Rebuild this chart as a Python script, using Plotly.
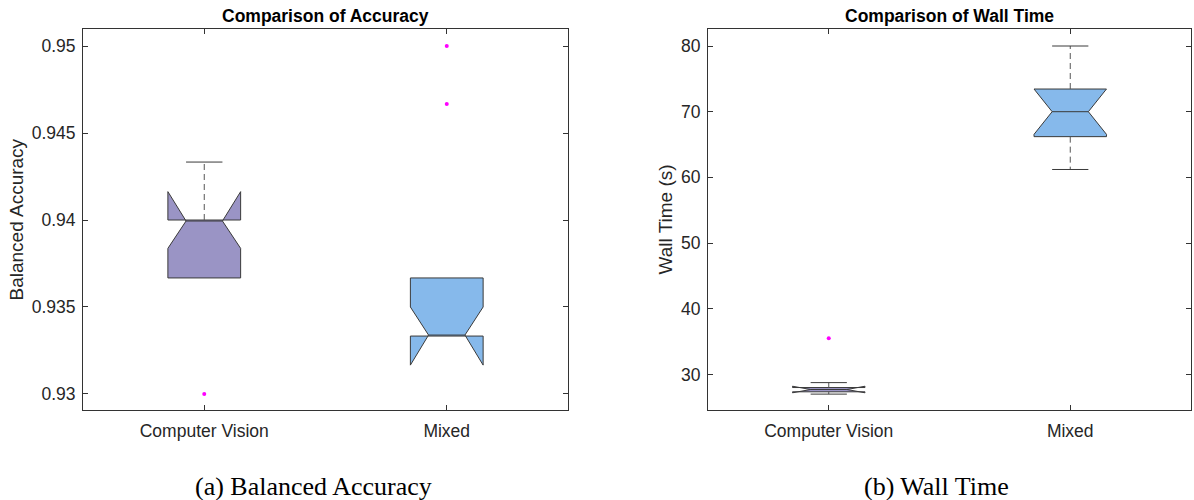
import plotly.graph_objects as go

# ---------------- data ----------------
categories = ["Computer Vision", "Mixed"]
box_colors = ["#9A94C5", "#86B9EB"]

# Balanced accuracy statistics
acc_q1 = [0.93667, 0.93333]
acc_median = [0.94000, 0.93333]
acc_q3 = [0.94000, 0.93667]
acc_lower_whisker = [0.93667, 0.93333]
acc_upper_whisker = [0.94333, 0.93667]
acc_notch = [0.00163, 0.00167]
acc_outliers = [[0.93000], [0.95000, 0.94667]]
acc_ticks = [0.93, 0.935, 0.94, 0.945, 0.95]
acc_tick_labels = ["0.93", "0.935", "0.94", "0.945", "0.95"]

# Wall time statistics (s)
time_q1 = [27.35, 66.20]
time_median = [27.70, 70.00]
time_q3 = [28.00, 73.45]
time_lower_whisker = [27.00, 61.20]
time_upper_whisker = [28.75, 80.00]
time_notch = [0.50, 3.45]
time_outliers = [[35.50], []]
time_ticks = [30, 40, 50, 60, 70, 80]
time_tick_labels = ["30", "40", "50", "60", "70", "80"]

titles = ["Comparison of Accuracy", "Comparison of Wall Time"]
y_titles = ["Balanced Accuracy", "Wall Time (s)"]
captions = ["(a) Balanced Accuracy", "(b) Wall Time"]

# ---------------- styling ----------------
W, H = 1194, 500
BOX_W = 0.30
CAP_HALF = BOX_W * 0.25
EDGE = "#3a3a3a"
AX = "#333333"
TXT = "#262626"
SANS = "Liberation Sans, Arial, sans-serif"
SERIF = "Liberation Serif, Times New Roman, serif"

fig = go.Figure()


def add_panel(xref, yref, q1, med, q3, lw, uw, notch, outl):
    for i, cat in enumerate(categories):
        pos = i + 1
        fig.add_trace(go.Box(
            x=[pos], q1=[q1[i]], median=[med[i]], q3=[q3[i]],
            lowerfence=[q1[i]], upperfence=[q3[i]], notchspan=[notch[i]],
            notched=True, notchwidth=0.25, width=BOX_W, whiskerwidth=0,
            fillcolor=box_colors[i], line=dict(color=EDGE, width=1),
            boxpoints="outliers", xaxis=xref, yaxis=yref, showlegend=False,
            hoverinfo="skip"))
        # whiskers (dashed) + caps
        for a, b in ((q3[i], uw[i]), (q1[i], lw[i])):
            if abs(b - a) > 1e-12:
                fig.add_trace(go.Scatter(
                    x=[pos, pos], y=[a, b], mode="lines",
                    line=dict(color="#555555", width=1, dash="6px,4px"),
                    xaxis=xref, yaxis=yref, showlegend=False, hoverinfo="skip"))
                fig.add_trace(go.Scatter(
                    x=[pos - CAP_HALF, pos + CAP_HALF], y=[b, b], mode="lines",
                    line=dict(color=EDGE, width=1),
                    xaxis=xref, yaxis=yref, showlegend=False, hoverinfo="skip"))
        if outl[i]:
            fig.add_trace(go.Scatter(
                x=[pos] * len(outl[i]), y=outl[i], mode="markers",
                marker=dict(color="#FF00FF", size=4, symbol="circle",
                            line=dict(width=0)),
                xaxis=xref, yaxis=yref, showlegend=False, hoverinfo="skip"))


add_panel("x", "y", acc_q1, acc_median, acc_q3, acc_lower_whisker,
          acc_upper_whisker, acc_notch, acc_outliers)
add_panel("x2", "y2", time_q1, time_median, time_q3, time_lower_whisker,
          time_upper_whisker, time_notch, time_outliers)

# axes geometry in pixels
L1, R1 = 83, 568
L2, R2 = 708, 1191
TOP, BOT = 29, 410


def xdom(l, r):
    return [l / W, r / W]


ydom = [1 - BOT / H, 1 - TOP / H]

common_x = dict(range=[0.5, 2.5], tickmode="array", tickvals=[1, 2],
                ticktext=categories, ticks="inside", ticklen=5,
                tickcolor=AX, showline=True, linecolor=AX, linewidth=1,
                mirror="ticks", showgrid=False, zeroline=False,
                tickfont=dict(family=SANS, size=17.5, color=TXT),
                ticklabelstandoff=5)
common_y = dict(ticks="inside", ticklen=5, tickcolor=AX, showline=True,
                linecolor=AX, linewidth=1, mirror="ticks", showgrid=False,
                zeroline=False, tickfont=dict(family=SANS, size=17.5, color=TXT),
                ticklabelstandoff=3)

fig.update_layout(
    width=W, height=H, margin=dict(l=0, r=0, t=0, b=0),
    paper_bgcolor="white", plot_bgcolor="white",
    xaxis=dict(domain=xdom(L1, R1), anchor="y", **common_x),
    xaxis2=dict(domain=xdom(L2, R2), anchor="y2", **common_x),
    yaxis=dict(domain=ydom, anchor="x", range=[0.92908, 0.950977],
               tickmode="array", tickvals=acc_ticks, ticktext=acc_tick_labels,
               **common_y),
    yaxis2=dict(domain=ydom, anchor="x2", range=[24.58, 82.59],
                tickmode="array", tickvals=time_ticks, ticktext=time_tick_labels,
                **common_y),
)

# titles, axis titles, captions
for (l, r), t, yt, ytx, cap, capx in (
        ((L1, R1), titles[0], y_titles[0], 16, captions[0], 313),
        ((L2, R2), titles[1], y_titles[1], 665, captions[1], 936)):
    fig.add_annotation(x=(l + r) / 2 / W, y=1 - 16 / H, xref="paper", yref="paper",
                       text="<b>" + t + "</b>", showarrow=False,
                       xanchor="center", yanchor="middle",
                       font=dict(family=SANS, size=17.5, color="black"))
    fig.add_annotation(x=ytx / W, y=1 - (TOP + BOT) / 2 / H, xref="paper",
                       yref="paper", text=yt, textangle=-90, showarrow=False,
                       xanchor="center", yanchor="middle",
                       font=dict(family=SANS, size=19, color=TXT))
    fig.add_annotation(x=capx / W, y=1 - 486 / H, xref="paper", yref="paper",
                       text=cap, showarrow=False, xanchor="center",
                       yanchor="middle",
                       font=dict(family=SERIF, size=26, color="black"))

fig.write_html(
    "out.html",
    config={"displayModeBar": False},
    post_script="document.body.style.margin='0';document.body.style.overflow='hidden';",
)
